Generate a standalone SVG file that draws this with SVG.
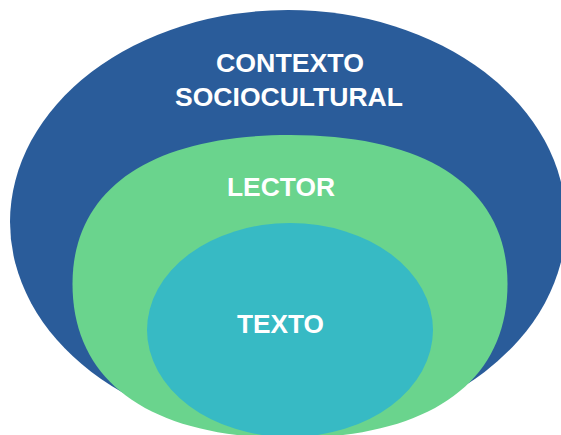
<svg xmlns="http://www.w3.org/2000/svg" width="561" height="435" viewBox="0 0 561 435">
<style>
.lbl{font-family:"Liberation Sans",Arial,sans-serif;font-weight:bold;font-size:26px;fill:#ffffff;text-anchor:middle}
</style>
<rect x="0" y="0" width="561" height="435" fill="#ffffff"/>
<g id="contexto">
<ellipse cx="288" cy="222" rx="278" ry="212" fill="#2A5C9A"/>
<text class="lbl" x="290" y="72" textLength="148" lengthAdjust="spacingAndGlyphs">CONTEXTO</text>
<text class="lbl" x="289" y="106" textLength="228" lengthAdjust="spacingAndGlyphs">SOCIOCULTURAL</text>
</g>
<g id="lector">
<path d="M72.5 284 C72.5 188.6 150.8 135 290 135 C429.2 135 507.5 188.6 507.5 284 C507.5 382.6 429.2 438 290 438 C150.8 438 72.5 382.6 72.5 284 Z" fill="#6AD48D"/>
<text class="lbl" x="281" y="196" textLength="108" lengthAdjust="spacingAndGlyphs">LECTOR</text>
</g>
<g id="texto">
<ellipse cx="290" cy="330" rx="143" ry="107" fill="#37BAC4"/>
<text class="lbl" x="280.5" y="333" textLength="87" lengthAdjust="spacingAndGlyphs">TEXTO</text>
</g>
<g id="connectors"></g>
</svg>
